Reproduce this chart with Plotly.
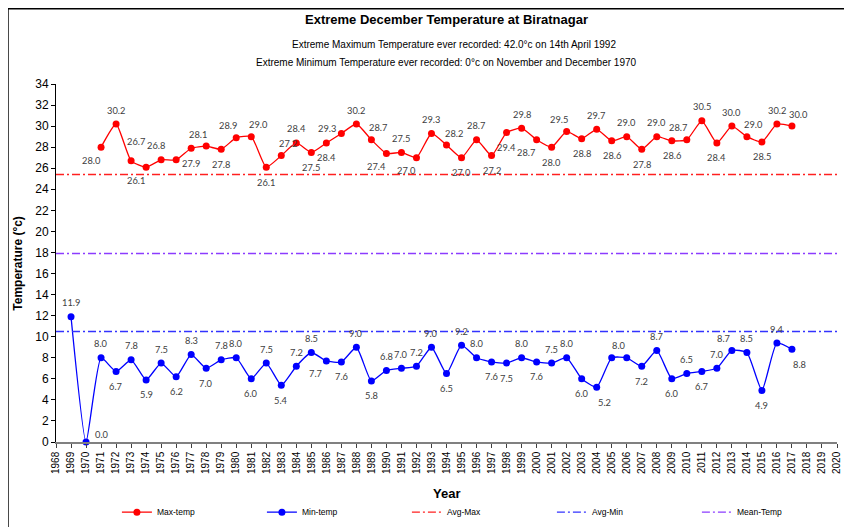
import plotly.graph_objects as go

# datos
years_max = list(range(1971, 2018))
max_temp = [28.0, 30.2, 26.7, 26.1, 26.8, 26.8, 27.9, 28.1, 27.8, 28.9,
            29.0, 26.1, 27.2, 28.4, 27.5, 28.4, 29.3, 30.2, 28.7, 27.4,
            27.5, 27.0, 29.3, 28.2, 27.0, 28.7, 27.2, 29.4, 29.8, 28.7,
            28.0, 29.5, 28.8, 29.7, 28.6, 29.0, 27.8, 29.0, 28.6, 28.7,
            30.5, 28.4, 30.0, 29.0, 28.5, 30.2, 30.0]

years_min = list(range(1969, 2018))
min_temp = [11.9, 0.0, 8.0, 6.7, 7.8, 5.9, 7.5, 6.2, 8.3, 7.0,
            7.8, 8.0, 6.0, 7.5, 5.4, 7.2, 8.5, 7.7, 7.6, 9.0,
            5.8, 6.8, 7.0, 7.2, 9.0, 6.5, 9.2, 8.0, 7.6, 7.5,
            8.0, 7.6, 7.5, 8.0, 6.0, 5.2, 8.0, 8.0, 7.2, 8.7,
            6.0, 6.5, 6.7, 7.0, 8.7, 8.5, 4.9, 9.4, 8.8]

avg_max = 25.4
avg_min = 10.5
mean_temp = 17.9

x_ticks = list(range(1968, 2021))
y_ticks = list(range(0, 36, 2))

# posicion de etiquetas (estilo, no datos)
pos_max = ['bl', 'a', 'ar2', 'bl', 'al2', '', 'b', 'al', 'b', 'al',
           'ar', 'b', 'ar', 'a', 'b', 'b', 'l', 'a', 'ar', 'bl',
           'a', 'bl', 'a', 'ar', 'b', 'a', 'b', 'b', 'a', 'bl',
           'b', 'al', 'b', 'a', 'b', 'a', 'b', 'a', 'b', 'al',
           'a', 'b', 'a', 'ar', 'b', 'a', 'ar']
pos_min = ['a', 'r', 'a', 'b', 'a', 'b', 'a', 'b', 'a', 'b',
           'a', 'a', 'b', 'a', 'b', 'a', 'a', 'bl', 'b', 'a',
           'b', 'a', 'a', 'a', 'a', 'b', 'a', 'a', 'b', 'b',
           'a', 'b', 'a', 'a', 'b', 'br', 'ar', '', 'b', 'a',
           'b', 'a', 'b', 'a', 'al', 'a', 'b', 'a', 'br']
shifts = {'a': (0, 14), 'b': (0, -15), 'al': (-8, 12), 'ar': (7, 12),
          'al2': (-5, 14), 'ar2': (5, 19),
          'bl': (-10, -13), 'br': (8, -15), 'l': (-14, 5), 'r': (16, 8)}

fig = go.Figure()
fig.add_trace(go.Scatter(x=years_max, y=max_temp, mode='lines+markers', name='Max-temp',
                         line=dict(color='#ff0000', width=1.3, shape='spline', smoothing=0.5),
                         marker=dict(size=7, color='#ff0000'), cliponaxis=False))
fig.add_trace(go.Scatter(x=years_min, y=min_temp, mode='lines+markers', name='Min-temp',
                         line=dict(color='#0000ff', width=1.3, shape='spline', smoothing=0.5),
                         marker=dict(size=7, color='#0000ff'), cliponaxis=False))
dash = '8px,3px,2px,3px'
fig.add_trace(go.Scatter(x=[x_ticks[0], x_ticks[-1]], y=[avg_max, avg_max], mode='lines', name='Avg-Max',
                         line=dict(color='#ff2020', width=1.4, dash=dash)))
fig.add_trace(go.Scatter(x=[x_ticks[0], x_ticks[-1]], y=[avg_min, avg_min], mode='lines', name='Avg-Min',
                         line=dict(color='#3333ff', width=1.4, dash=dash)))
fig.add_trace(go.Scatter(x=[x_ticks[0], x_ticks[-1]], y=[mean_temp, mean_temp], mode='lines', name='Mean-Temp',
                         line=dict(color='#8c3cff', width=1.4, dash=dash)))

annotations = []
for xs, ys, ps in [(years_max, max_temp, pos_max), (years_min, min_temp, pos_min)]:
    for x, y, p in zip(xs, ys, ps):
        if not p:
            continue
        dx, dy = shifts[p]
        annotations.append(dict(x=x, y=y, text=f'{y:.1f}', showarrow=False, xshift=dx, yshift=dy,
                                xanchor='center', yanchor='middle',
                                font=dict(family='Lato', size=9.3, color='#404040')))

txt = dict(family='Liberation Sans, Arial', color='#000000')
head = dict(xref='paper', yref='paper', showarrow=False, xanchor='center', yanchor='middle')
annotations += [
    dict(x=0.5, y=1.179, text='<b>Extreme December Temperature at Biratnagar</b>',
         font=dict(size=13, **txt), **head),
    dict(x=0.51, y=1.109, text='Extreme Maximum Temperature ever recorded: 42.0°c on 14th April 1992',
         font=dict(size=10, **txt), **head),
    dict(x=0.5, y=1.061, text='Extreme Minimum Temperature ever recorded: 0°c on November and December 1970',
         font=dict(size=10, **txt), **head),
    dict(x=-0.049, y=0.5, textangle=-90, text='<b>Temperature (°c)</b>',
         font=dict(size=12, **txt), **head),
    dict(x=0.5, y=-0.145, text='<b>Year</b>', font=dict(size=13, **txt), **head),
]

# la pagina tiene 8px de margen en body: se compensa en los margenes
fig.update_layout(
    width=852, height=527,
    margin=dict(l=48, r=23, t=76, b=93, autoexpand=False),
    plot_bgcolor='white', paper_bgcolor='white',
    showlegend=True,
    annotations=annotations,
    xaxis=dict(range=[x_ticks[0], x_ticks[-1]], tickmode='array', tickvals=x_ticks, ticktext=[str(t) for t in x_ticks],
               tickangle=-90, ticks='outside', ticklen=4, tickcolor='#404040', showline=True,
               linecolor='#808080', linewidth=1.5, showgrid=False, zeroline=False,
               tickfont=dict(size=10, **txt)),
    yaxis=dict(range=[0, 34], tickmode='array', tickvals=y_ticks, ticks='outside', ticklen=4,
               tickcolor='#000000', showline=True, linecolor='#000000', linewidth=1, showgrid=False,
               zeroline=False, tickfont=dict(size=12, **txt)),
    legend=dict(orientation='h', x=0.078, y=-0.196, xanchor='left', yanchor='middle',
                entrywidth=100, entrywidthmode='pixels', font=dict(size=8.5, **txt),
                bgcolor='rgba(0,0,0,0)'),
    shapes=[
        dict(type='line', xref='paper', yref='paper', x0=-0.0615, x1=-0.0615, y0=1.21, y1=-0.3,
             line=dict(color='#000000', width=1.5)),
        dict(type='line', xref='paper', yref='paper', x0=-0.0615, x1=1.05, y0=1.21, y1=1.21,
             line=dict(color='#000000', width=1.5)),
    ],
)

fig.write_html("out.html")
